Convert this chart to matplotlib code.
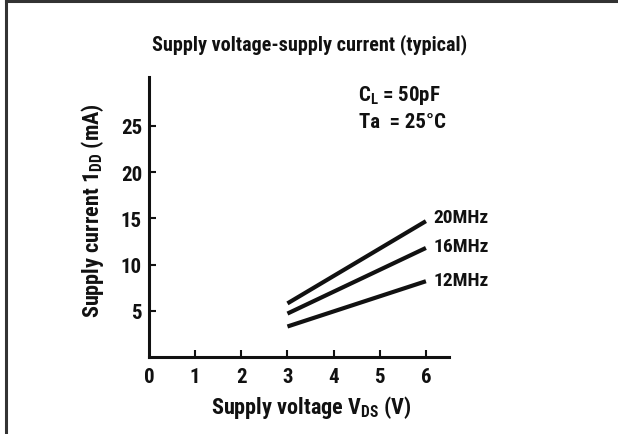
import matplotlib
matplotlib.use("Agg")
import matplotlib.pyplot as plt
from matplotlib import font_manager

# Supply voltage (V) at start and end of each line
voltage = [3, 6]
# Supply current (mA) for each clock frequency
current_20mhz = [5.8, 14.7]
current_16mhz = [4.7, 11.8]
current_12mhz = [3.3, 8.2]
series_labels = ["20MHz", "16MHz", "12MHz"]

x_ticks = [1, 2, 3, 4, 5, 6]
y_ticks = [5, 10, 15, 20, 25]

# pick a condensed bold face if one is installed
names = {f.name for f in font_manager.fontManager.ttflist}
cands = ["Liberation Sans Narrow", "Roboto Condensed", "DejaVu Sans Condensed", "Liberation Sans"]
FONT = [c for c in cands if c in names] + ["DejaVu Sans"]

plt.rcParams["font.family"] = FONT
plt.rcParams["font.weight"] = "bold"
plt.rcParams["mathtext.fontset"] = "custom"
plt.rcParams["mathtext.rm"] = FONT[0] + ":bold"
plt.rcParams["mathtext.it"] = FONT[0] + ":bold"
plt.rcParams["mathtext.bf"] = FONT[0] + ":bold"

INK = "#111111"

fig = plt.figure(figsize=(6.18, 4.35), dpi=100)
ax = fig.add_axes([0.2411, 0.177, 0.4854, 0.6437])

# outer frame (left and top edges only)
fig.add_artist(plt.Line2D([0.009, 0.009], [0, 0.995], color="#333333", lw=2.2,
                          transform=fig.transFigure))
fig.add_artist(plt.Line2D([0.009, 1.0], [0.995, 0.995], color="#333333", lw=2.2,
                          transform=fig.transFigure))

label_dy = [0.5, 0.2, 0.1]
for ys, lab, dy in zip([current_20mhz, current_16mhz, current_12mhz], series_labels, label_dy):
    ax.plot(voltage, ys, color=INK, lw=3, solid_capstyle="butt")
    ax.text(voltage[-1] + 0.17, ys[-1] + dy, lab, fontsize=14, fontweight="bold",
            va="center", ha="left", color=INK)

ax.set_xlim(0, 6.5)
ax.set_ylim(0, 30.3)
for side in ["top", "right"]:
    ax.spines[side].set_visible(False)
for side in ["left", "bottom"]:
    ax.spines[side].set_linewidth(2.2)
    ax.spines[side].set_color(INK)

ax.set_xticks(x_ticks)
ax.set_yticks(y_ticks)
ax.tick_params(direction="in", length=5, width=1.5, labelsize=15, colors=INK)
ax.tick_params(axis="x", pad=7)
ax.tick_params(axis="y", pad=5)
ax.text(0, -1.05, "0", fontsize=15, fontweight="bold", ha="center", va="top", color=INK)

fig.text(311 / 618, 1 - 408 / 435, r"Supply voltage V$_{\mathrm{DS}}$ (V)", fontsize=16,
         fontweight="bold", ha="center", va="center", color=INK)
fig.text(93 / 618, 1 - 211 / 435, r"Supply current 1$_{\mathrm{DD}}$ (mA)", fontsize=16,
         fontweight="bold", ha="center", va="center", rotation=90, color=INK)

fig.text(310 / 618, 1 - 45 / 435, "Supply voltage-supply current (typical)", fontsize=14.5,
         fontweight="bold", ha="center", va="center", color=INK)

ax.text(4.52, 28.4, r"C$_{\mathrm{L}}$ = 50pF", fontsize=15, fontweight="bold",
        va="center", color=INK)
ax.text(4.55, 25.5, "Ta  = 25°C", fontsize=15, fontweight="bold", va="center", color=INK)

fig.savefig("out.png", dpi=100)
